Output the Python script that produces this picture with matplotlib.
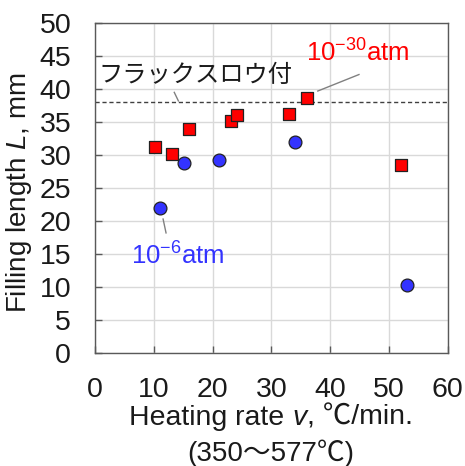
import matplotlib
matplotlib.use("Agg")
import matplotlib.pyplot as plt
from matplotlib.offsetbox import TextArea, HPacker, AnnotationBbox

plt.rcParams['font.family'] = ['Liberation Sans', 'Noto Sans CJK JP', 'DejaVu Sans']
plt.rcParams['mathtext.fontset'] = 'custom'
plt.rcParams['mathtext.rm'] = 'Liberation Sans'
plt.rcParams['mathtext.it'] = 'Liberation Sans:italic'

# Data
rate_30 = [10.2, 13.1, 16.0, 23.1, 24.1, 33.0, 36.1, 52.0]
len_30 = [31.2, 30.2, 34.0, 35.1, 36.1, 36.2, 38.6, 28.5]
rate_6 = [11.0, 15.1, 21.1, 34.1, 53.1]
len_6 = [21.9, 28.8, 29.2, 32.0, 10.3]
brazing_limit = 38.0
xticks = [0, 10, 20, 30, 40, 50, 60]
yticks = [0, 5, 10, 15, 20, 25, 30, 35, 40, 45, 50]

TXT = '#1a1a1a'
fig = plt.figure(figsize=(4.65, 4.66), dpi=100)
ax = fig.add_axes([0.204, 0.2425, 0.759, 0.708])

ax.set_xlim(0, 60)
ax.set_ylim(0, 50)
ax.set_xticks(xticks)
ax.set_yticks(yticks)
ax.grid(True, color='#d9d9d9', linewidth=1.0)
ax.set_axisbelow(True)
for s in ax.spines.values():
    s.set_color('#595959')
    s.set_linewidth(1.0)
ax.tick_params(direction='in', length=5, width=1.0, color='#595959',
               labelsize=20.5, labelcolor=TXT)
ax.tick_params(axis='y', pad=17)
ax.tick_params(axis='x', pad=17)

ax.axhline(brazing_limit, color='#404040', linestyle=(0, (3, 2)), linewidth=1.0, zorder=2)

ax.scatter(rate_30, len_30, marker='s', s=80, color='#ff0000', edgecolor='#222222',
           linewidth=0.9, zorder=3)
ax.scatter(rate_6, len_6, marker='o', s=85, color='#3333ff', edgecolor='#222222',
           linewidth=0.9, zorder=3)

ax.text(0.6, 42.0, 'フラックスロウ付', fontsize=17.5, color=TXT, va='center', ha='left')
ax.plot([13.5, 14.2], [39.5, 38.2], color='#808080', linewidth=1.0)

ax.text(35.9, 45.4, r'10$^{\mathregular{-30}}$atm', fontsize=18.5, color='#ff0000',
        va='center', ha='left')
ax.plot([37.9, 44.9], [39.7, 42.2], color='#808080', linewidth=1.0)

ax.text(6.1, 14.7, r'10$^{\mathregular{-6}}$atm', fontsize=18.5, color='#3333ff',
        va='center', ha='left')
ax.plot([11.6, 12.1], [20.3, 18.2], color='#808080', linewidth=1.0)

ax.set_ylabel(r'Filling length $\mathit{L}$, mm', fontsize=20, color=TXT)
# right edge of the rotated label at about x=34 px
ax.yaxis.set_label_coords((34 - 95) / 353, 0.485)

fs = 20.5
parts = [TextArea('Heating rate ', textprops=dict(size=fs, color=TXT)),
         TextArea('v', textprops=dict(size=fs, color=TXT, style='italic')),
         TextArea(', ℃/min.', textprops=dict(size=fs, color=TXT))]
box = HPacker(children=parts, align='baseline', pad=0, sep=0)
ab = AnnotationBbox(box, (0.583, 1 - 418 / 466), xycoords='figure fraction',
                    frameon=False, box_alignment=(0.5, 0.5), pad=0)
fig.add_artist(ab)
fig.text(0.583, 1 - 453 / 466, '(350～577℃)', fontsize=20, color=TXT,
         ha='center', va='center')

fig.savefig('out.png', dpi=100)
